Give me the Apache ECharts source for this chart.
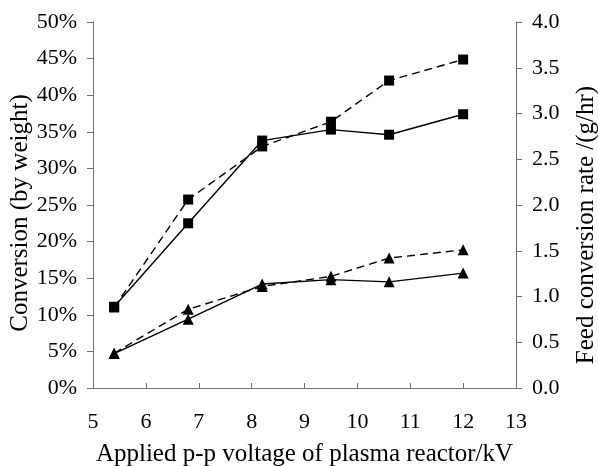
<!DOCTYPE html>
<html><head><meta charset="utf-8">
<script src="https://cdn.jsdelivr.net/npm/echarts@6/dist/echarts.min.js"></script>
<style>html,body{margin:0;padding:0;background:#fff}#c{width:598px;height:466px}</style>
</head><body><div id="c"></div>
<script>
var voltage = [5.4, 6.8, 8.2, 9.5, 10.6, 12];
// Conversion (by weight), fraction - solid lines (left axis)
var convSquare = [0.111, 0.225, 0.338, 0.353, 0.346, 0.374];
var convTriangle = [0.047, 0.094, 0.142, 0.148, 0.145, 0.157];
// Feed conversion rate g/hr - dashed lines (right axis)
var rateSquare = [0.88, 2.06, 2.64, 2.91, 3.36, 3.59];
var rateTriangle = [0.38, 0.86, 1.11, 1.22, 1.42, 1.51];

function pairs(xs, ys){ return xs.map(function(x,i){ return [x, ys[i]]; }); }
var font = 'Liberation Serif';
var axisCol = '#707070';
var tickFont = 22, titleFont = 25;
var chart = echarts.init(document.getElementById('c'));
function mk(name, data, yIdx, symbol, size, dashed){
  return {name:name, type:'line', yAxisIndex:yIdx, data:pairs(voltage,data),
    symbol:symbol, symbolSize:size, showSymbol:true, animation:false,
    itemStyle:{color:'#000'},
    lineStyle:{color:'#000', width:1.4, type: dashed ? [8,5] : 'solid'}};
}
chart.setOption({
  animation:false,
  grid:{left:93, right:82, top:22, bottom:78, containLabel:false, outerBoundsMode:'none'},
  xAxis:{type:'value', min:5, max:13, interval:1,
    name:'Applied p-p voltage of plasma reactor/kV', nameLocation:'middle', nameGap:54,
    nameMoveOverlap:false,
    nameTextStyle:{fontFamily:font, fontSize:titleFont, color:'#000'},
    axisLine:{lineStyle:{color:axisCol}},
    axisTick:{inside:true, length:5, lineStyle:{color:axisCol}},
    axisLabel:{fontFamily:font, fontSize:tickFont, color:'#000', margin:23},
    splitLine:{show:false}},
  yAxis:[{type:'value', min:0, max:0.5, interval:0.05, position:'left',
    name:'Conversion (by weight)', nameLocation:'middle', nameGap:60,
    nameMoveOverlap:false,
    nameTextStyle:{fontFamily:font, fontSize:titleFont, color:'#000', padding:[0,16,0,0]},
    axisLine:{show:true, lineStyle:{color:axisCol}},
    axisTick:{show:true, length:6, lineStyle:{color:axisCol}},
    axisLabel:{fontFamily:font, fontSize:tickFont, color:'#000', margin:16,
      formatter:function(v){ return Math.round(v*100)+'%'; }},
    splitLine:{show:false}},
   {type:'value', min:0, max:4, interval:0.5, position:'right',
    name:'Feed conversion rate /(g/hr)', nameLocation:'middle', nameGap:58,
    nameRotate:90, nameMoveOverlap:false,
    nameTextStyle:{fontFamily:font, fontSize:titleFont, color:'#000', padding:[0,40,0,0]},
    axisLine:{show:true, lineStyle:{color:axisCol}},
    axisTick:{show:true, length:6, lineStyle:{color:axisCol}},
    axisLabel:{fontFamily:font, fontSize:tickFont, color:'#000', margin:16,
      formatter:function(v){ return v.toFixed(1); }},
    splitLine:{show:false}}],
  series:[
    mk('Conversion sq', convSquare, 0, 'rect', 10, false),
    mk('Conversion tri', convTriangle, 0, 'triangle', 11, false),
    mk('Rate sq', rateSquare, 1, 'rect', 10, true),
    mk('Rate tri', rateTriangle, 1, 'triangle', 11, true)
  ]
});
</script></body></html>
